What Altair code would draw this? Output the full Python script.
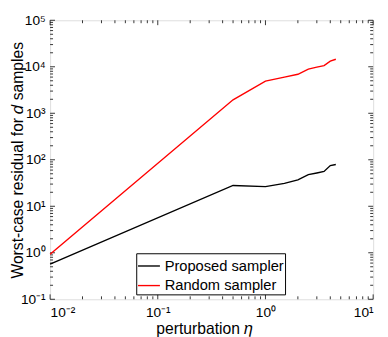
import altair as alt
import pandas as pd
import numpy as np

eta = [0.01, 0.5, 1.0, 1.5, 2.0, 2.5, 3.0, 3.5, 4.0, 4.5]
proposed = [0.57, 28, 26.5, 31, 37, 48, 52, 56, 75, 79]
random_s = [0.93, 1950, 4900, 6000, 6900, 8900, 9800, 10600, 13200, 14500]
series_names = ["Proposed sampler", "Random sampler"]
series_colors = ["#000000", "#ff0000"]

x_major = [0.01, 0.1, 1, 10]
y_major = [0.1, 1, 10, 100, 1000, 10000, 100000]
x_minor = [m * d for d in [0.01, 0.1, 1] for m in range(2, 10)]
y_minor = [m * d for d in [0.1, 1, 10, 100, 1000, 10000] for m in range(2, 10)]

W, H = 330, 285
FONT = "Liberation Sans"

df = pd.DataFrame({
    "eta": eta * 2,
    "val": proposed + random_s,
    "series": [series_names[0]] * len(eta) + [series_names[1]] * len(eta),
})

lab = "'10' + ['⁻²','⁻¹','⁰','¹','²','³','⁴','⁵'][round(log(datum.value)/LN10) + 2]"

xs = alt.Scale(type="log", domain=[0.01, 10])
ys = alt.Scale(type="log", domain=[0.1, 100000])

lines = alt.Chart(df).mark_line(strokeWidth=1.4).encode(
    x=alt.X("eta:Q", scale=xs,
            axis=alt.Axis(values=x_major, labelExpr=lab, ticks=False, domain=False, grid=False,
                          labelFont=FONT, labelFontSize=14, labelColor="black", labelPadding=7,
                          title="perturbation 𝜂", titleFont=FONT, titleFontSize=16,
                          titleFontWeight="normal", titleColor="black", titlePadding=1,
                          titleX=157, titleAlign="center")),
    y=alt.Y("val:Q", scale=ys,
            axis=alt.Axis(values=y_major, labelExpr=lab, ticks=False, domain=False, grid=False,
                          labelFont=FONT, labelFontSize=14, labelColor="black", labelPadding=5,
                          title="Worst-case residual for 𝑑 samples", titleFont=FONT,
                          titleFontSize=16, titleFontWeight="normal", titleColor="black",
                          titleX=-33, titleY=H / 2, titleAngle=270, titleBaseline="middle",
                          titleAlign="center")),
    color=alt.Color("series:N", scale=alt.Scale(domain=series_names, range=series_colors),
                    legend=alt.Legend(title=None, orient="none", legendX=88, legendY=238,
                                      symbolType="stroke", symbolSize=500, symbolStrokeWidth=1.4,
                                      labelFont=FONT, labelFontSize=15, labelColor="black",
                                      strokeColor="black", fillColor="white", padding=1,
                                      rowPadding=0, labelOffset=4, cornerRadius=0)),
)

def tick_layer(vals, length, axis):
    d = pd.DataFrame({"v": vals})
    base = alt.Chart(d).mark_rule(color="black", strokeWidth=0.8)
    if axis == "x":
        a = base.encode(x=alt.X("v:Q", scale=xs), y=alt.value(H), y2=alt.value(H - length))
        b = base.encode(x=alt.X("v:Q", scale=xs), y=alt.value(0), y2=alt.value(length))
    else:
        a = base.encode(y=alt.Y("v:Q", scale=ys), x=alt.value(0), x2=alt.value(length))
        b = base.encode(y=alt.Y("v:Q", scale=ys), x=alt.value(W), x2=alt.value(W - length))
    return a + b

ticks = (tick_layer(x_major, 5, "x") + tick_layer(x_minor, 3, "x")
         + tick_layer(y_major, 5, "y") + tick_layer(y_minor, 3, "y"))

chart = alt.layer(ticks, lines).properties(
    width=W, height=H,
    autosize=alt.AutoSizeParams(type="none"),
    padding={"left": 43, "top": 9, "right": 7, "bottom": 35},
).configure_view(stroke="black", strokeWidth=1.2).configure(background="white")

chart.save("out.html", embed_options={"renderer": "svg", "actions": False})
